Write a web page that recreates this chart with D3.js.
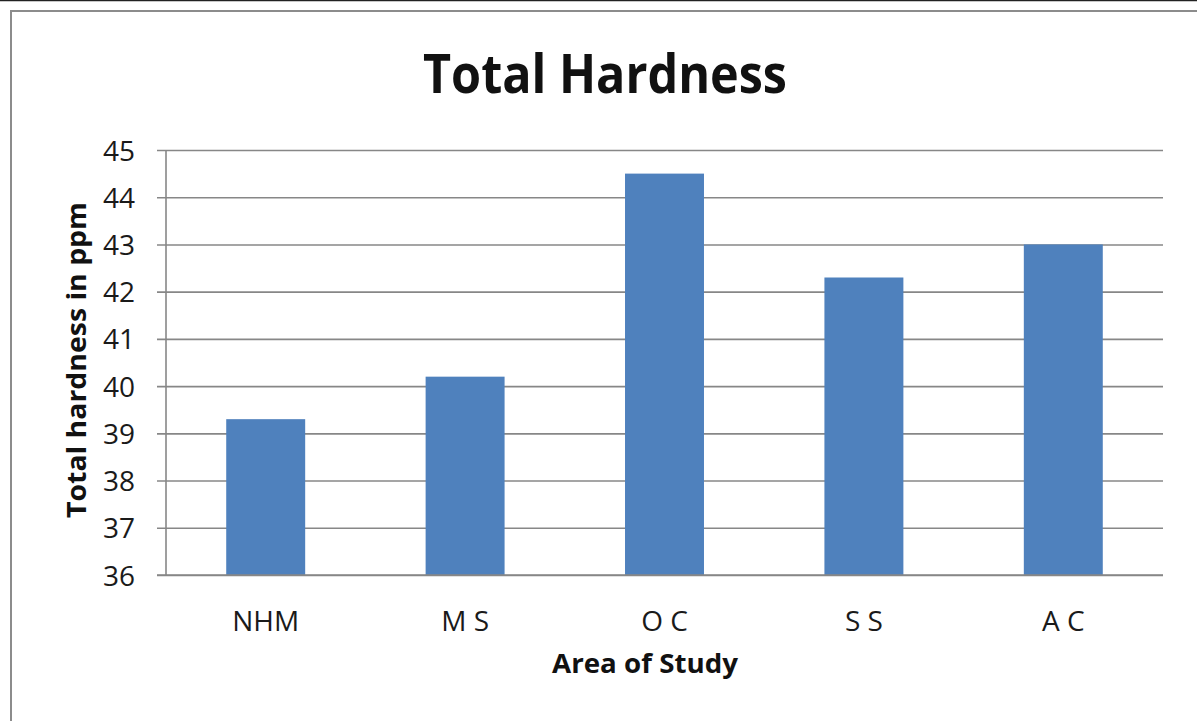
<!DOCTYPE html>
<html>
<head>
<meta charset="utf-8">
<script src="https://cdn.jsdelivr.net/npm/d3@7"></script>
<style>
  html, body { margin: 0; padding: 0; background: #ffffff; }
  svg { display: block; }
  text { font-family: "Open Sans", "Liberation Sans", sans-serif; fill: #111; }
</style>
</head>
<body>
<svg id="chart" width="1197" height="721"></svg>
<script>
// Total hardness (ppm) by area of study
const categories = ["NHM", "M S", "O C", "S S", "A C"];
const hardness = [39.3, 40.2, 44.5, 42.3, 43.0];
const yTicks = [36, 37, 38, 39, 40, 41, 42, 43, 44, 45];

const W = 1197, H = 721;
const plot = { left: 166, right: 1163, top: 150, bottom: 575 };

const svg = d3.select("#chart");

// sheet frame: dark top edge and the chart object's gray border
svg.append("line")
  .attr("x1", 0).attr("x2", W).attr("y1", 0.5).attr("y2", 0.5)
  .attr("stroke", "#222").attr("stroke-width", 1.5);
svg.append("rect")
  .attr("x", 11).attr("y", 11)
  .attr("width", W + 20).attr("height", H + 20)
  .attr("fill", "#ffffff")
  .attr("stroke", "#8c8c8c").attr("stroke-width", 2);

const x = d3.scaleBand()
  .domain(categories)
  .range([plot.left, plot.right])
  .paddingInner(0.604)
  .paddingOuter(0.302);

const y = d3.scaleLinear()
  .domain([36, 45])
  .range([plot.bottom, plot.top]);

// horizontal gridlines with short ticks left of the axis
const yAxis = d3.axisLeft(y)
  .tickValues(yTicks)
  .tickSize(-(plot.right - plot.left))
  .tickFormat(d3.format("d"));

const gy = svg.append("g")
  .attr("transform", `translate(${plot.left},0)`)
  .call(yAxis);
gy.select(".domain").remove();
gy.selectAll(".tick line")
  .attr("x1", -9)
  .attr("stroke", "#878787").attr("stroke-width", 1.6);
gy.selectAll(".tick text")
  .attr("x", -31)
  .attr("dy", "0.36em")
  .style("font-size", "28px")
  .style("fill", "#1a1a1a");

// vertical value axis line
svg.append("line")
  .attr("x1", plot.left).attr("x2", plot.left)
  .attr("y1", y(45)).attr("y2", y(36))
  .attr("stroke", "#878787").attr("stroke-width", 1.6);

// bars
svg.append("g").selectAll("rect")
  .data(categories.map((c, i) => ({ c, v: hardness[i] })))
  .join("rect")
  .attr("x", d => x(d.c))
  .attr("width", x.bandwidth())
  .attr("y", d => y(d.v))
  .attr("height", d => y(36) - y(d.v))
  .attr("fill", "#4f81bd");

// category axis
const gx = svg.append("g")
  .attr("transform", `translate(0,${plot.bottom})`)
  .call(d3.axisBottom(x).tickSize(0).tickPadding(0));
gx.select(".domain").remove();
gx.selectAll(".tick text")
  .attr("y", 56)
  .attr("dy", 0)
  .style("font-size", "28px")
  .style("fill", "#1a1a1a");

svg.append("line")
  .attr("x1", plot.left - 9).attr("x2", plot.right)
  .attr("y1", plot.bottom).attr("y2", plot.bottom)
  .attr("stroke", "#878787").attr("stroke-width", 1.6);

// titles (condensed to a Calibri-like width)
svg.append("text")
  .attr("x", 605).attr("y", 93)
  .attr("text-anchor", "middle")
  .attr("textLength", 364).attr("lengthAdjust", "spacingAndGlyphs")
  .style("font-size", "53px").style("font-weight", "bold")
  .text("Total Hardness");

svg.append("text")
  .attr("transform", "translate(86,360) rotate(-90)")
  .attr("text-anchor", "middle")
  .attr("textLength", 316).attr("lengthAdjust", "spacingAndGlyphs")
  .style("font-size", "27px").style("font-weight", "bold")
  .text("Total hardness in ppm");

svg.append("text")
  .attr("x", 645).attr("y", 673)
  .attr("text-anchor", "middle")
  .attr("textLength", 186).attr("lengthAdjust", "spacingAndGlyphs")
  .style("font-size", "27px").style("font-weight", "bold")
  .text("Area of Study");
</script>
</body>
</html>
